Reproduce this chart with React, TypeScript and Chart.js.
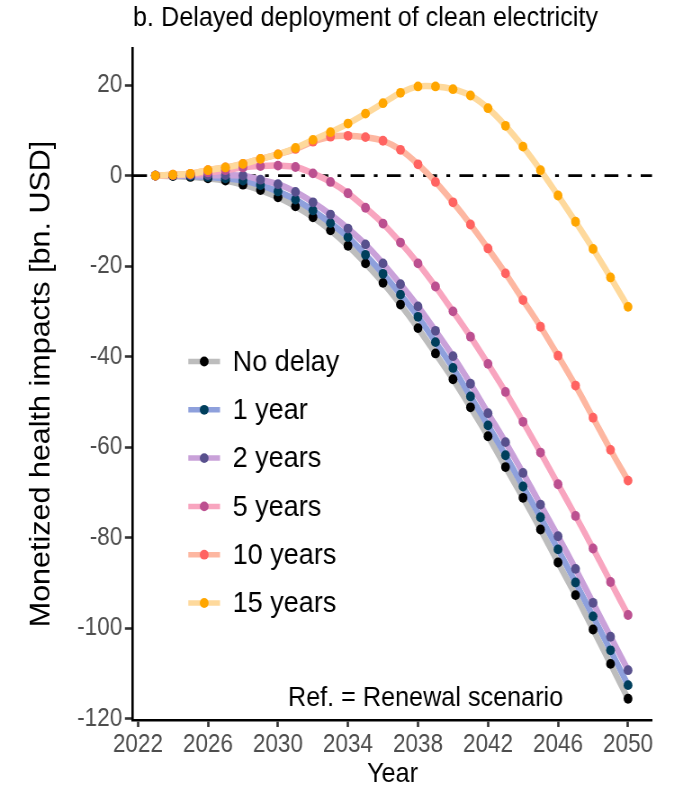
import React, { useEffect, useRef } from "react";
import { Chart, registerables } from "chart.js";

Chart.register(...registerables);

// ---------------- data ----------------
const YEARS = [
  2023, 2024, 2025, 2026, 2027, 2028, 2029, 2030, 2031, 2032, 2033, 2034, 2035, 2036,
  2037, 2038, 2039, 2040, 2041, 2042, 2043, 2044, 2045, 2046, 2047, 2048, 2049, 2050,
];
const NO_DELAY = [
  0, -0.1, -0.3, -0.6, -1.1, -2.0, -3.2, -4.8, -6.8, -9.2, -12.1, -15.5, -19.4, -23.7,
  -28.5, -33.7, -39.3, -45.0, -51.2, -57.6, -64.4, -71.2, -78.2, -85.5, -92.7, -100.3, -107.9, -115.6,
];
const ONE_YEAR = [
  0, 0, -0.1, -0.3, -0.6, -1.1, -2.1, -3.5, -5.3, -7.7, -10.5, -13.6, -17.5, -21.7,
  -26.3, -31.2, -36.8, -42.5, -48.8, -55.2, -61.8, -68.7, -75.5, -82.6, -89.9, -97.4, -104.9, -112.6,
];
const TWO_YEARS = [
  0, 0.1, 0.1, 0.1, 0.1, 0.0, -0.9, -1.9, -3.6, -5.9, -8.6, -11.7, -15.2, -19.4,
  -24.0, -28.9, -34.3, -39.9, -46.0, -52.5, -58.9, -65.7, -72.7, -79.7, -86.9, -94.4, -101.9, -109.3,
];
const FIVE_YEARS = [
  0, 0.1, 0.3, 0.7, 1.2, 1.8, 2.1, 2.2, 1.9, 0.5, -1.4, -3.9, -7.1, -10.6,
  -14.8, -19.4, -24.5, -30.0, -35.6, -41.6, -47.8, -54.4, -61.2, -68.2, -75.2, -82.4, -89.8, -97.1,
];
const TEN_YEARS = [
  0, 0.2, 0.4, 1.2, 1.8, 2.6, 3.7, 4.7, 5.9, 7.5, 8.6, 8.8, 8.5, 7.7,
  5.7, 2.5, -1.4, -5.9, -10.8, -16.1, -21.6, -27.5, -33.4, -39.8, -46.4, -53.5, -60.6, -67.4,
];
const FIFTEEN_YEARS = [
  0, 0.2, 0.4, 1.2, 1.8, 2.6, 3.7, 4.7, 6.1, 7.9, 9.6, 11.5, 13.7, 16.0,
  18.3, 19.7, 19.7, 19.1, 17.7, 14.9, 11.0, 6.4, 1.2, -4.4, -10.2, -16.2, -22.5, -29.0,
];

const SERIES_LABELS = ["No delay", "1 year", "2 years", "5 years", "10 years", "15 years"];
const SERIES_VALUES = [NO_DELAY, ONE_YEAR, TWO_YEARS, FIVE_YEARS, TEN_YEARS, FIFTEEN_YEARS];
const LINE_COLORS = ["#bdbdbd", "#8ea0dc", "#c9a1d9", "#f8a5bf", "#fdb7a1", "#fed99c"];
const POINT_COLORS = ["#000000", "#003f5c", "#58508d", "#bc5090", "#ff6361", "#ffa600"];

const X_TICKS = [2022, 2026, 2030, 2034, 2038, 2042, 2046, 2050];
const Y_TICKS = [20, 0, -20, -40, -60, -80, -100, -120];

const TITLE = "b. Delayed deployment of clean electricity";
const X_TITLE = "Year";
const Y_TITLE = "Monetized health impacts [bn. USD]";
const NOTE = "Ref. = Renewal scenario";

// ---------------- layout ----------------
const PAGE_W = 674;
const H = 792;
const W = 749; // drawing width, squeezed horizontally to the page width
const SX = PAGE_W / W;
const px = (xRef: number) => xRef / SX; // reference x -> drawing x

const X_MIN = 2021.72;
const X_MAX = 2051.37;
const Y_MIN = -120.3;
const Y_MAX = 28.2;

const FONT = '"Liberation Sans", Arial, Helvetica, sans-serif';
const POINT_R = 4.9;

const customPlugin = {
  id: "customDecor",
  beforeDatasetsDraw(chart: any) {
    const { ctx, chartArea, scales } = chart;
    const y = scales.y.getPixelForValue(0);
    ctx.save();
    ctx.beginPath();
    ctx.setLineDash([15.5, 10.3, 4.2, 10.3]);
    ctx.lineWidth = 2.8;
    ctx.strokeStyle = "#000";
    ctx.moveTo(chartArea.left, y);
    ctx.lineTo(chartArea.right, y);
    ctx.stroke();
    ctx.restore();
  },
  afterDraw(chart: any) {
    const { ctx } = chart;
    ctx.save();
    // title
    ctx.fillStyle = "#000";
    ctx.font = `28px ${FONT}`;
    ctx.textAlign = "left";
    ctx.textBaseline = "middle";
    ctx.fillText(TITLE, px(133), 18);

    // note
    ctx.font = `28px ${FONT}`;
    ctx.textAlign = "center";
    ctx.fillText(NOTE, px(425.5), 698);

    // legend
    const y0 = 361.5;
    const step = 48.3;
    SERIES_LABELS.forEach((label, i) => {
      const y = y0 + i * step;
      ctx.beginPath();
      ctx.setLineDash([]);
      ctx.lineWidth = 5.5;
      ctx.strokeStyle = LINE_COLORS[i];
      ctx.moveTo(px(188.3), y);
      ctx.lineTo(px(220), y);
      ctx.stroke();
      ctx.beginPath();
      ctx.fillStyle = POINT_COLORS[i];
      ctx.arc(px(204.2), y, POINT_R, 0, Math.PI * 2);
      ctx.fill();
      ctx.fillStyle = "#000";
      ctx.font = `30px ${FONT}`;
      ctx.textAlign = "left";
      ctx.textBaseline = "middle";
      ctx.fillText(label, px(232.7), y + 1);
    });
    ctx.restore();
  },
};

export default function App() {
  const canvasRef = useRef<HTMLCanvasElement | null>(null);

  useEffect(() => {
    const canvas = canvasRef.current;
    if (!canvas) return;

    const datasets: any[] = [];
    SERIES_VALUES.forEach((vals, i) => {
      const pts = YEARS.map((x, j) => ({ x, y: vals[j] }));
      datasets.push({
        label: SERIES_LABELS[i] + " line",
        data: pts,
        borderColor: LINE_COLORS[i],
        backgroundColor: LINE_COLORS[i],
        borderWidth: 6.5,
        pointRadius: 0,
        tension: 0.35,
        fill: false,
        order: 20 - i,
      });
    });
    SERIES_VALUES.forEach((vals, i) => {
      const pts = YEARS.map((x, j) => ({ x, y: vals[j] }));
      datasets.push({
        label: SERIES_LABELS[i],
        data: pts,
        showLine: false,
        pointRadius: POINT_R,
        pointBorderWidth: 0,
        pointBackgroundColor: POINT_COLORS[i],
        pointBorderColor: POINT_COLORS[i],
        order: 10 - i,
      });
    });

    const tickFont = { family: FONT, size: 25 };

    const chart = new Chart(canvas, {
      type: "line",
      data: { datasets },
      plugins: [customPlugin],
      options: {
        animation: false,
        responsive: false,
        maintainAspectRatio: false,
        devicePixelRatio: 1,
        events: [],
        layout: { padding: { top: 48, right: W - px(652), left: 0, bottom: 0 } },
        plugins: {
          legend: { display: false },
          title: { display: false },
          tooltip: { enabled: false },
        },
        scales: {
          x: {
            type: "linear",
            min: X_MIN,
            max: X_MAX,
            afterBuildTicks: (s: any) => {
              s.ticks = X_TICKS.map((v) => ({ value: v }));
            },
            afterFit: (s: any) => {
              s.height = H - 720;
            },
            ticks: {
              callback: (v: any) => String(v),
              font: tickFont,
              color: "#4d4d4d",
              padding: 3,
              maxRotation: 0,
              autoSkip: false,
            },
            grid: {
              drawOnChartArea: false,
              drawTicks: true,
              tickLength: 7,
              tickWidth: 2.6,
              tickColor: "#333333",
            },
            border: { display: true, color: "#000", width: 2.6 },
            title: {
              display: true,
              text: X_TITLE,
              color: "#000",
              font: { family: FONT, size: 28 },
              padding: { top: 0, bottom: 1 },
            },
          },
          y: {
            type: "linear",
            min: Y_MIN,
            max: Y_MAX,
            afterBuildTicks: (s: any) => {
              s.ticks = Y_TICKS.map((v) => ({ value: v }));
            },
            afterFit: (s: any) => {
              s.width = px(133);
            },
            ticks: {
              callback: (v: any) => String(v),
              font: tickFont,
              color: "#4d4d4d",
              padding: 3,
              autoSkip: false,
            },
            grid: {
              drawOnChartArea: false,
              drawTicks: true,
              tickLength: 9,
              tickWidth: 2.6,
              tickColor: "#333333",
            },
            border: { display: true, color: "#000", width: 2.6 },
            title: {
              display: true,
              text: Y_TITLE,
              color: "#000",
              font: { family: FONT, size: 30.5 },
              padding: { top: 28, bottom: 0 },
            },
          },
        },
      } as any,
    });

    return () => chart.destroy();
  }, []);

  return (
    <div
      style={{
        position: "absolute",
        left: 0,
        top: 0,
        width: PAGE_W,
        height: H,
        overflow: "hidden",
        background: "#fff",
      }}
    >
      <div style={{ width: W, height: H, transform: `scaleX(${SX})`, transformOrigin: "0 0" }}>
        <canvas
          ref={canvasRef}
          width={W}
          height={H}
          style={{ display: "block", width: W, height: H }}
        />
      </div>
    </div>
  );
}
